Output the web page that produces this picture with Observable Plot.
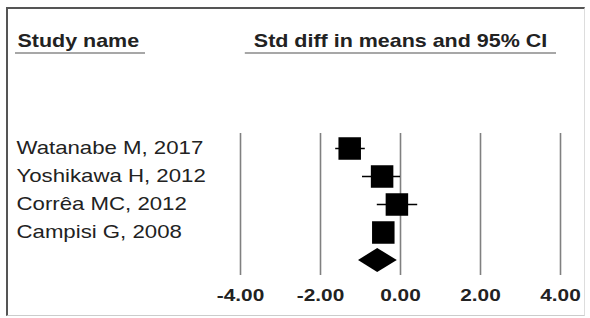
<!DOCTYPE html>
<html>
<head>
<meta charset="utf-8">
<script src="https://cdn.jsdelivr.net/npm/d3@7"></script>
<script src="https://cdn.jsdelivr.net/npm/@observablehq/plot@0.6"></script>
<style>
  html, body { margin: 0; padding: 0; background: #fff; }
  #wrap { position: relative; width: 590px; height: 318px; overflow: hidden; }
  #border { position: absolute; left: 6px; top: 7px; width: 576px; height: 306px;
            border-left: 2px solid #555; border-top: 2px solid #555;
            border-right: 1px solid #ddd; border-bottom: 1px solid #ccc; }
  #chart { position: absolute; left: 0; top: 0; }
</style>
</head>
<body>
<div id="wrap"><div id="border"></div><div id="chart"></div></div>
<script>
// ---- data ----
const studies = ["Watanabe M, 2017", "Yoshikawa H, 2012", "Corrêa MC, 2012", "Campisi G, 2008"];
const estimate = [-1.27, -0.46, -0.09, -0.43];
const lower = [-1.62, -0.95, -0.58, -0.62];
const upper = [-0.88, 0.00, 0.43, -0.24];
const summaryLabel = "Summary";
const summaryEstimate = -0.57;
const summaryLower = -1.05;
const summaryUpper = -0.08;
const xTicks = [-4, -2, 0, 2, 4];
const headerLeft = "Study name";
const headerRight = "Std diff in means and 95% CI";

const rows = studies.map((s, i) => ({study: s, est: estimate[i], lo: lower[i], hi: upper[i]}));

const font = "'Liberation Sans', Arial, sans-serif";

function overlay(index, scales, values, dimensions) {
  const g = d3.create("svg:g");
  const {x, y} = scales;
  const cy = y(summaryLabel);
  const h = 12;
  g.append("polygon")
    .attr("points", [
      [x(summaryLower), cy], [x(summaryEstimate), cy - h],
      [x(summaryUpper), cy], [x(summaryEstimate), cy + h]
    ].map(p => p.join(",")).join(" "))
    .attr("fill", "#000");
  const uy = 53;
  g.append("line").attr("x1", 15).attr("x2", 145).attr("y1", uy).attr("y2", uy)
    .attr("stroke", "#8a8a8a").attr("stroke-width", 1.6);
  g.append("line").attr("x1", x(-3.88)).attr("x2", x(3.9)).attr("y1", uy).attr("y2", uy)
    .attr("stroke", "#8a8a8a").attr("stroke-width", 1.6);
  return g.node();
}

const chart = Plot.plot({
  width: 590,
  height: 318,
  marginLeft: 240,
  marginRight: 30,
  marginTop: 133,
  marginBottom: 43,
  style: {fontFamily: font, background: "transparent", overflow: "visible"},
  x: {domain: [-4, 4], ticks: xTicks, tickFormat: d => d.toFixed(2)},
  y: {type: "point", domain: [...studies, summaryLabel], range: [147.5, 261], padding: 0, axis: null},
  marks: [
    Plot.ruleX(xTicks, {stroke: "#808080", strokeWidth: 1.6, strokeOpacity: 1}),
    Plot.axisX({ticks: xTicks, tickFormat: d => d.toFixed(2), tickSize: 0, tickPadding: 14,
                fontSize: 16, fontWeight: "bold", fill: "#222", label: null}),
    Plot.ruleY(rows, {y: "study", x1: "lo", x2: "hi", stroke: "#000", strokeWidth: 1.5}),
    Plot.dot(rows, {x: "est", y: "study", symbol: "square", r: 12.7, fill: "#000", stroke: null}),
    Plot.text(studies, {y: d => d, text: d => d, frameAnchor: "left", textAnchor: "start",
                        dx: -224, fontSize: 18.5, fill: "#222"}),
    Plot.text([headerLeft], {text: d => d, frameAnchor: "top-left", textAnchor: "start",
                        lineAnchor: "bottom", dx: -223, dy: -87, fontSize: 18.5, fontWeight: "bold",
                        fill: "#222"}),
    Plot.text([headerRight], {x: 0, text: d => d, frameAnchor: "top", textAnchor: "middle",
                        lineAnchor: "bottom", dy: -87, fontSize: 18.5, fontWeight: "bold",
                        fill: "#222"}),
    overlay
  ]
});

document.getElementById("chart").append(chart);

// horizontal stretch of the lettering, as in the reference picture
chart.querySelectorAll("text").forEach(t => {
  const s = t.textContent;
  let f = 1.3;
  if (studies.includes(s)) f = 1.2;
  else if (s === headerLeft || s === headerRight) f = 1.16;
  const L = t.getComputedTextLength();
  if (L > 0) {
    t.setAttribute("textLength", L * f);
    t.setAttribute("lengthAdjust", "spacingAndGlyphs");
  }
});
</script>
</body>
</html>
